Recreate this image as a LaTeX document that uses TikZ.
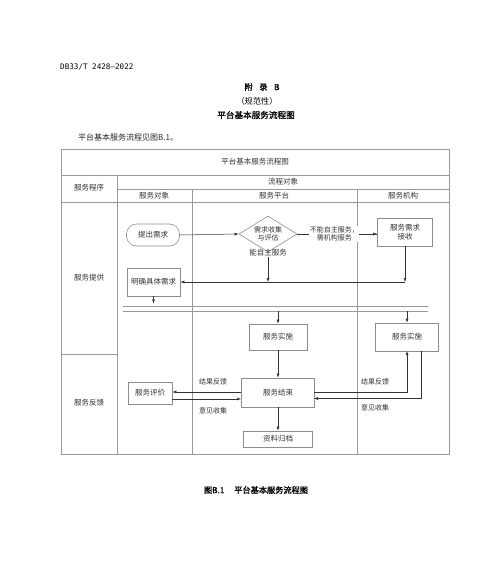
\documentclass[tikz,border=0pt]{standalone}
\usepackage{fontspec}
\setmainfont{Noto Sans CJK SC}
\newfontfamily\cjkb[FakeBold=1.2]{Noto Sans CJK SC}
\newfontfamily\monof{DejaVu Sans Mono}
\usetikzlibrary{shapes.geometric,arrows.meta}
\begin{document}
\begin{tikzpicture}[x=1pt,y=-1pt,
  tbl/.style={draw=black!40,line width=0.6pt},
  txt/.style={font=\fontsize{7.5}{9}\selectfont,text=black!80,inner sep=0.5pt,align=center},
  boxn/.style={txt,draw=black!45,line width=0.6pt,inner sep=0pt},
  lbl/.style={txt,font=\fontsize{7}{8.5}\selectfont},
  arr/.style={draw=black!80,line width=0.5pt,-{Latex[length=4pt,width=3pt]}},
  ln/.style={draw=black!80,line width=0.5pt}]
\useasboundingbox (0,0) rectangle (500,565);
% page texts
\node[font=\monof\fontsize{7.6}{9}\selectfont,anchor=west,inner sep=0] (docid) at (60,67) {DB33/T 2428—2022};
\node[font=\cjkb\fontsize{8.2}{10}\selectfont,inner sep=0] (fulu) at (262,87) {附\hspace{0.8em}录\hspace{0.8em}B};
\node[font=\fontsize{8.2}{10}\selectfont,inner sep=0] (gfx) at (257,101) {（规范性）};
\node[font=\cjkb\fontsize{8.6}{10}\selectfont,inner sep=0] (ttl) at (256,115) {平台基本服务流程图};
\node[font=\fontsize{8}{10}\selectfont,anchor=west,inner sep=0,text=black!85] (intro) at (78,137) {平台基本服务流程见图B.1。};
\node[font=\cjkb\fontsize{8.2}{10}\selectfont,inner sep=0] (cap) at (256,490) {图B.1\hspace{1.2em}平台基本服务流程图};
% table
\draw[tbl] (61,149) rectangle (449,454);
\draw[tbl] (61,175) -- (449,175);
\draw[tbl] (117,175) -- (117,454);
\draw[tbl] (117,189) -- (449,189);
\draw[tbl] (61,202) -- (449,202);
\draw[tbl] (192,189) -- (192,454);
\draw[tbl] (357,189) -- (357,454);
\draw[tbl] (61,354) -- (117,354);
\node[txt] (h0) at (255,162) {平台基本服务流程图};
\node[txt] (h1) at (89,188) {服务程序};
\node[txt] (h2) at (283,182) {流程对象};
\node[txt] (h3) at (154,196) {服务对象};
\node[txt] (h4) at (274,196) {服务平台};
\node[txt] (h5) at (403,196) {服务机构};
\node[txt] (r1) at (89,278) {服务提供};
\node[txt] (r2) at (89,403) {服务反馈};
% flow nodes
\node[boxn,minimum width=53pt,minimum height=22pt,rounded corners=10pt] (tichu) at (153,235) {提出需求};
\node[boxn,diamond,aspect=1.6,minimum width=58pt,minimum height=36pt,inner sep=0pt,
      font=\fontsize{7}{8.5}\selectfont] (pg) at (268,234) {需求收集\\与评估};
\node[boxn,minimum width=55pt,minimum height=28pt] (jieshou) at (405,232) {服务需求\\接收};
\node[boxn,minimum width=53pt,minimum height=28pt] (mingque) at (153.5,282) {明确具体需求};
\node[boxn,minimum width=58pt,minimum height=26pt] (ss1) at (278,337) {服务实施};
\node[boxn,minimum width=63pt,minimum height=28pt] (ss2) at (407,337) {服务实施};
\node[boxn,minimum width=73pt,minimum height=29pt,line width=0.9pt] (jieshu) at (278,392.5) {服务结束};
\node[boxn,minimum width=69pt,minimum height=16pt] (guidang) at (278,439) {资料归档};
\node[boxn,minimum width=44pt,minimum height=22pt] (pingjia) at (150,393) {服务评价};
% double lines
\coordinate (da1) at (123,306);
\coordinate (db1) at (428,306);
\coordinate (da2) at (123,311);
\coordinate (db2) at (428,311);
\draw[tbl,line width=0.5pt] (da1) -- (db1);
\draw[tbl,line width=0.5pt] (da2) -- (db2);
% connectors
\draw[arr] (tichu.east) -- (pg.west);
\draw[ln] (pg.east) -- (pg.east -| jieshou.west)
  node[lbl,midway,fill=white,xshift=-3pt] (bn) {不能自主服务，\\需机构服务};
\draw[arr] (bn.east |- pg.east) -- (pg.east -| jieshou.west);
\node[lbl,font=\fontsize{7.5}{9}\selectfont] (nz) at (268,252.5) {能自主服务};
\draw[arr] (nz.south) -- (nz.south |- mingque.east);
\draw[arr] (jieshou.south) -- (jieshou.south |- mingque.east);
\draw[arr] (jieshou.south |- mingque.east) -- (mingque.east);
\coordinate (m1) at (153.5,303.5);
\draw[arr] (mingque.south) -- (m1);
\draw[arr] (ss1.north |- da2) -- (ss1.north);
\draw[arr] (ss2.north |- da2) -- (ss2.north);
\draw[arr] (ss1.south) -- (jieshu.north);
\draw[arr] (jieshu.south) -- (guidang.north);
\coordinate (L1) at (241,392);
\coordinate (L2) at (241,399);
\draw[arr] (L1) -- (L1 -| pingjia.east);
\draw[arr] (L2 -| pingjia.east) -- (L2);
\node[lbl] (jg1) at (213,382) {结果反馈};
\node[lbl] (yj1) at (213,411) {意见收集};
\coordinate (R1) at (314,392);
\coordinate (R2) at (314,398.5);
\coordinate (s2a) at (407,351);
\coordinate (s2b) at (421,351);
\draw[arr] (R1) -- (R1 -| s2a) -- (s2a);
\draw[arr] (s2b) -- (s2b |- R2) -- (R2);
\node[lbl] (jg2) at (375,382) {结果反馈};
\node[lbl] (yj2) at (375,408) {意见收集};
\end{tikzpicture}
\end{document}
